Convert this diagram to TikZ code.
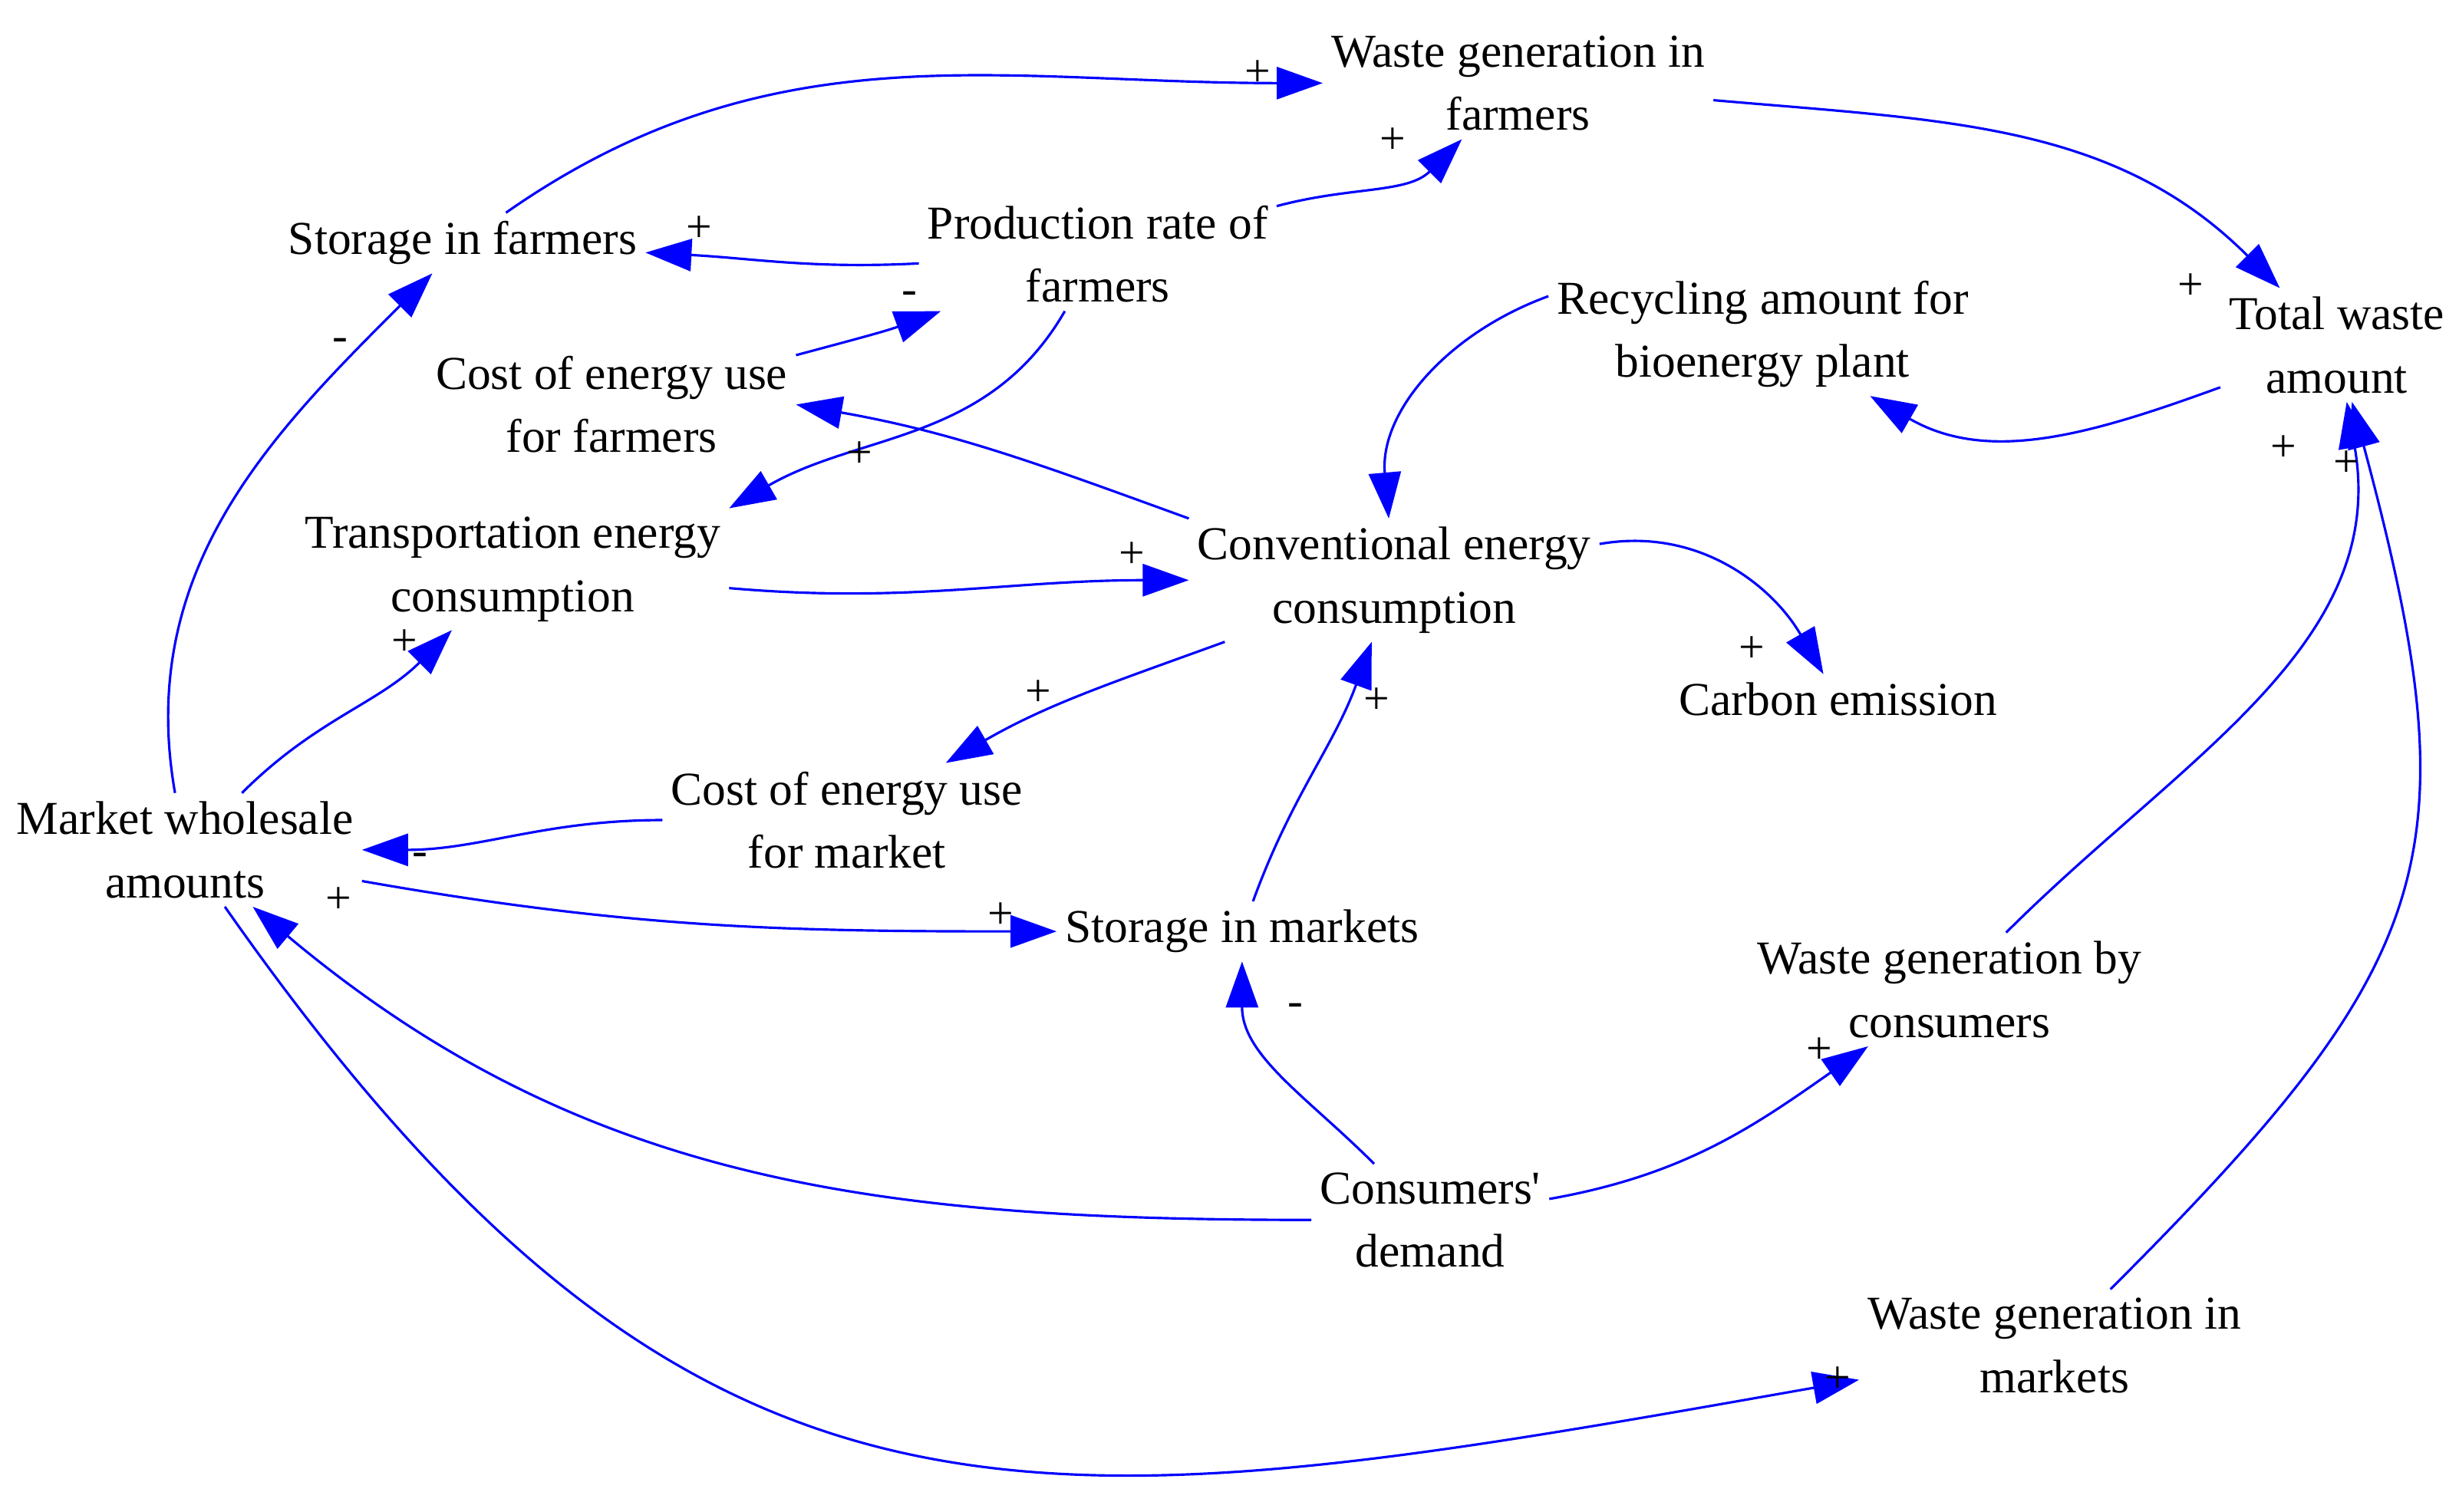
\documentclass[tikz,border=0pt]{standalone}
\usepackage{fontspec}
\setmainfont{Liberation Serif}
\usetikzlibrary{arrows.meta}
\definecolor{lnk}{RGB}{0,0,255}
\begin{document}
\begin{tikzpicture}[x=0.02044cm,y=0.02044cm,
  var/.style={align=center,inner sep=3pt,font=\fontsize{17.5}{23.5}\selectfont},
  sgn/.style={inner sep=0pt,font=\fontsize{17}{20}\selectfont},
  lk/.style={draw=lnk,line width=0.9pt,-{Triangle[length=0.6cm,width=0.42cm,fill=lnk]}}]
\useasboundingbox (0,0) rectangle (1568,-964);
% variables
\node[var] (wgf) at (968,-53) {Waste generation in\\farmers};
\node[var] (sf) at (295,-155) {Storage in farmers};
\node[var] (prf) at (700,-162) {Production rate of\\farmers};
\node[var] (cef) at (390,-258) {Cost of energy use\\for farmers};
\node[var] (rec) at (1124,-213) {Recycling amount for\\bioenergy plant};
\node[var] (tw) at (1490,-220) {Total waste\\amount};
\node[var] (tec) at (327,-363) {Transportation energy\\consumption};
\node[var] (cec) at (889,-370) {Conventional energy\\consumption};
\node[var] (ce) at (1172,-446) {Carbon emission};
\node[var] (mw) at (118,-542) {Market wholesale\\amounts};
\node[var] (cem) at (540,-523) {Cost of energy use\\for market};
\node[var] (sm) at (792,-594) {Storage in markets};
\node[var] (wgc) at (1243,-631) {Waste generation by\\consumers};
\node[var] (cd) at (912,-778) {Consumers\textquotesingle\\demand};
\node[var] (wgm) at (1310,-858) {Waste generation in\\markets};
% links
\draw[lk] (sf) to[out=35,in=180] (wgf);
\draw[lk] (wgf) to[out=-5,in=135] (tw);
\draw[lk] (prf) to[out=15,in=225] (wgf);
\draw[lk] (prf) to[out=183,in=-3] (sf);
\draw[lk] (cef) to[out=15,in=200] (prf);
\draw[lk] (prf) to[out=-120,in=30] (tec.north east);
\draw[lk] (mw) to[out=100,in=225] (sf);
\draw[lk] (cec.north west) to[out=160,in=-10] (cef.east);
\draw[lk] (tec) to[out=-5,in=180] (cec);
\draw[lk] (rec.170) to[out=200,in=95] (cec);
\draw[lk] (tw) to[out=200,in=-30] (rec);
\draw[lk] (cec) to[out=10,in=120] (ce);
\draw[lk] (cec) to[out=200,in=30] (cem);
\draw[lk] (cem) to[out=180,in=0] (mw);
\draw[lk] (mw) to[out=45,in=225] (tec);
\draw[lk] (mw) to[out=-10,in=180] (sm);
\draw[lk] (sm) to[out=70,in=250] (cec);
\draw[lk] (cd) to[out=135,in=270] (sm);
\draw[lk] (cd) to[out=180,in=-40] (mw);
\draw[lk] (cd) to[out=10,in=215] (wgc);
\draw[lk] (wgc) to[out=45,in=-80] (tw);
\draw[lk] (mw) to[out=-55,in=190,looseness=1.25] (wgm);
\draw[lk] (wgm) to[out=45,in=-75,looseness=1.3] (tw);
% polarity signs
\node[sgn] (s1) at (802,-47) {+};
\node[sgn] (s2) at (1397,-183) {+};
\node[sgn] (s3) at (888,-90) {+};
\node[sgn] (s4) at (446,-146) {+};
\node[sgn] (s5) at (580,-190) {-};
\node[sgn] (s6) at (217,-220) {-};
\node[sgn] (s7) at (548,-290) {+};
\node[sgn] (s8) at (722,-354) {+};
\node[sgn] (s9) at (1117,-414) {+};
\node[sgn] (s10) at (662,-442) {+};
\node[sgn] (s11) at (268,-548) {-};
\node[sgn] (s12) at (258,-410) {+};
\node[sgn] (s13) at (216,-574) {+};
\node[sgn] (s14) at (638,-584) {+};
\node[sgn] (s15) at (878,-447) {+};
\node[sgn] (s16) at (826,-644) {-};
\node[sgn] (s17) at (1160,-670) {+};
\node[sgn] (s18) at (1456,-286) {+};
\node[sgn] (s19) at (1496,-296) {+};
\node[sgn] (s20) at (1172,-880) {+};
\end{tikzpicture}
\end{document}
